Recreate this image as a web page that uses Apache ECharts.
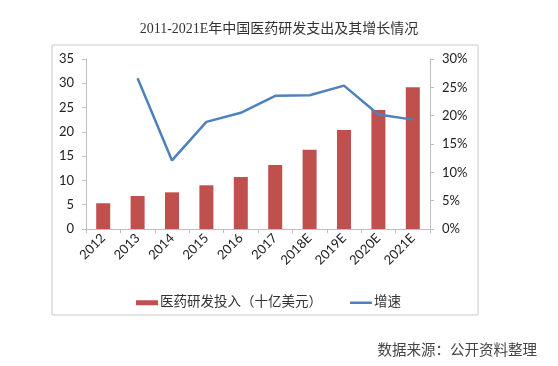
<!DOCTYPE html>
<html><head><meta charset="utf-8">
<script src="https://cdn.jsdelivr.net/npm/echarts@6/dist/echarts.min.js"></script>
<style>html,body{margin:0;padding:0;background:#fff}#c{width:558px;height:366px}</style>
</head><body><div id="c"></div>
<script>
var categories = ['2012','2013','2014','2015','2016','2017','2018E','2019E','2020E','2021E'];
var spending = [5.3, 6.8, 7.55, 9.0, 10.7, 13.2, 16.3, 20.4, 24.5, 29.2];
var growth = [null, 26.6, 12.1, 18.9, 20.5, 23.5, 23.6, 25.3, 20.2, 19.3];
var leftTicks = {min: 0, max: 35, interval: 5};
var rightTicks = {min: 0, max: 30, interval: 5};
var titleText = '2011-2021E年中国医药研发支出及其增长情况';
var sourceText = '数据来源：公开资料整理';
var seriesNames = ['医药研发投入（十亿美元）', '增速'];

var serif = '"Liberation Serif","Noto Sans CJK SC",serif';
var sans = 'Lato,"Noto Sans CJK SC",sans-serif';
var chart = echarts.init(document.getElementById('c'));
chart.setOption({
  animation: false,
  title: {text: titleText, left: 'center', top: 17, textStyle: {fontFamily: serif, fontSize: 14, fontWeight: 'normal', color: '#333'}},
  graphic: [
    {type: 'rect', shape: {x: 52, y: 45, width: 426, height: 270}, style: {fill: 'none', stroke: '#c8c8c8', lineWidth: 1}, z: -1},
    {type: 'text', right: 21, top: 344, style: {text: sourceText, font: '14.5px ' + serif, fill: '#444'}}
  ],
  legend: [
    {left: 131, top: 291, itemWidth: 22, itemHeight: 5,
     textStyle: {fontFamily: serif, fontSize: 13.5, color: '#333', padding: [0, 0, 0, -3]},
     data: [{name: seriesNames[0], icon: 'rect'}]},
    {left: 345, top: 291, itemWidth: 22, itemHeight: 2.5,
     textStyle: {fontFamily: serif, fontSize: 13.5, color: '#333', padding: [0, 0, 0, -3]},
     data: [{name: seriesNames[1], icon: 'rect'}]}
  ],
  grid: {left: 86, right: 128, top: 59, bottom: 137},
  xAxis: {
    type: 'category', data: categories,
    axisLine: {lineStyle: {color: '#bfbfbf'}},
    axisTick: {show: true, length: 4, lineStyle: {color: '#bfbfbf'}},
    axisLabel: {rotate: 45, fontFamily: sans, fontSize: 13, color: '#222', margin: 7}
  },
  yAxis: [
    {type: 'value', min: leftTicks.min, max: leftTicks.max, interval: leftTicks.interval,
     axisLine: {show: true, lineStyle: {color: '#bfbfbf'}},
     axisTick: {show: true, length: 4, lineStyle: {color: '#bfbfbf'}},
     splitLine: {show: false},
     axisLabel: {fontFamily: sans, fontSize: 13, color: '#222', margin: 12}},
    {type: 'value', min: rightTicks.min, max: rightTicks.max, interval: rightTicks.interval, position: 'right',
     axisLine: {show: true, lineStyle: {color: '#bfbfbf'}},
     axisTick: {show: true, length: 4, lineStyle: {color: '#bfbfbf'}},
     splitLine: {show: false},
     axisLabel: {formatter: '{value}%', fontFamily: sans, fontSize: 13, color: '#222', margin: 12}}
  ],
  series: [
    {name: seriesNames[0], type: 'bar', data: spending, barWidth: 14, itemStyle: {color: '#c0504d'}},
    {name: seriesNames[1], type: 'line', yAxisIndex: 1, data: growth, symbol: 'none', lineStyle: {color: '#4f81bd', width: 2.5}, itemStyle: {color: '#4f81bd'}}
  ]
});
</script></body></html>
